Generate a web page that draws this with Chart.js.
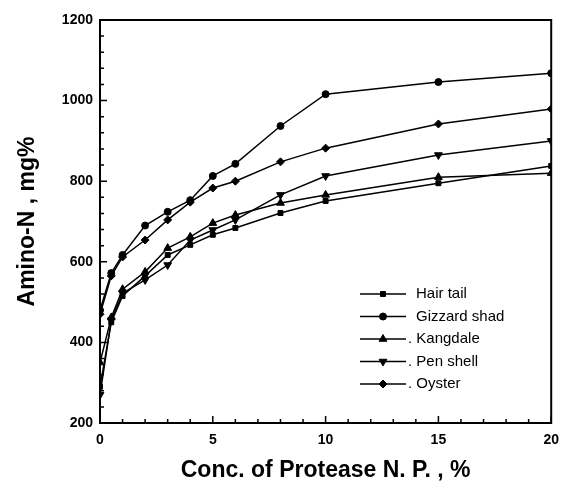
<!DOCTYPE html>
<html>
<head>
<meta charset="utf-8">
<script src="https://cdn.jsdelivr.net/npm/chart.js@4/dist/chart.umd.min.js"></script>
<style>
  html, body { margin: 0; padding: 0; background: #fff; }
  canvas { display: block; }
</style>
</head>
<body>
<canvas id="chart" width="568" height="490"></canvas>
<script>
// concentration of protease N.P. (%)
const conc = [0, 0.5, 1, 2, 3, 4, 5, 6, 8, 10, 15, 20];

// amino-N (mg%)
const hairTail    = [290, 450, 515, 565, 617, 642, 667, 684, 721, 751, 795, 838];
const gizzardShad = [480, 572, 617, 690, 724, 753, 813, 843, 937, 1016, 1046, 1068];
const kangdale    = [350, 462, 532, 575, 634, 662, 696, 716, 746, 766, 810, 820];
const penShell    = [270, 455, 522, 555, 592, 654, 679, 704, 766, 813, 865, 900];
const oyster      = [470, 565, 612, 654, 704, 748, 783, 800, 848, 882, 942, 979];

const legendLabels = ["Hair tail", "Gizzard shad", ". Kangdale", ". Pen shell", ". Oyster"];
const xTickLabels = [0, 5, 10, 15, 20];
const yTickLabels = [200, 400, 600, 800, 1000, 1200];

const font = "'Liberation Sans', Arial, sans-serif";

function series(label, values, style, radius, rotation) {
    return {
        label: label,
        data: conc.map((x, i) => ({ x: x, y: values[i] })),
        borderColor: "#000",
        backgroundColor: "#000",
        borderWidth: 1.5,
        pointStyle: style,
        pointRadius: radius,
        pointRotation: rotation || 0,
        pointBorderWidth: 1,
        tension: 0
    };
}

const datasets = [
    series(legendLabels[0], hairTail, "rect", 3.5),
    series(legendLabels[1], gizzardShad, "circle", 3.5),
    series(legendLabels[2], kangdale, "triangle", 4.5),
    series(legendLabels[3], penShell, "triangle", 4.5, 180),
    series(legendLabels[4], oyster, "rectRot", 4)
];

// frame, inward ticks and the legend box inside the plot
const framePlugin = {
    id: "frame",
    afterDraw(chart) {
        const ctx = chart.ctx;
        const a = chart.chartArea;
        const xs = chart.scales.x, ys = chart.scales.y;
        ctx.save();
        ctx.strokeStyle = "#000";
        ctx.lineWidth = 2;
        ctx.strokeRect(a.left, a.top, a.right - a.left, a.bottom - a.top);

        ctx.lineWidth = 1.5;
        ctx.beginPath();
        for (let v = 200; v <= 1200; v += 40) {
            const y = ys.getPixelForValue(v);
            const len = v % 200 === 0 ? 7 : 4;
            ctx.moveTo(a.left, y);
            ctx.lineTo(a.left + len, y);
        }
        for (let v = 0; v <= 20; v += 1) {
            const x = xs.getPixelForValue(v);
            const len = v % 5 === 0 ? 7 : 4;
            ctx.moveTo(x, a.bottom);
            ctx.lineTo(x, a.bottom - len);
        }
        ctx.stroke();

        // legend
        const lx = 360, lx2 = 406, tx = 416;
        let ly = 294;
        const draw = Chart.helpers && Chart.helpers.drawPoint;
        chart.data.datasets.forEach(ds => {
            ctx.strokeStyle = "#000";
            ctx.lineWidth = 1.5;
            ctx.beginPath();
            ctx.moveTo(lx, ly);
            ctx.lineTo(lx2, ly);
            ctx.stroke();
            if (draw) {
                ctx.fillStyle = "#000";
                ctx.lineWidth = 1;
                draw(ctx, {
                    pointStyle: ds.pointStyle,
                    radius: ds.pointRadius,
                    rotation: ds.pointRotation,
                    borderWidth: 1
                }, (lx + lx2) / 2, ly);
            }
            ctx.fillStyle = "#000";
            ctx.font = "15px " + font;
            ctx.textAlign = "left";
            ctx.textBaseline = "middle";
            ctx.fillText(ds.label, ds.label.startsWith(".") ? tx - 8 : tx, ly);
            ly += 22.5;
        });
        ctx.restore();
    }
};

new Chart(document.getElementById("chart"), {
    type: "line",
    data: { datasets: datasets },
    options: {
        responsive: false,
        animation: false,
        devicePixelRatio: 1,
        layout: { padding: { top: 20, right: 11, bottom: 0, left: 0 } },
        plugins: { legend: { display: false }, tooltip: { enabled: false } },
        scales: {
            x: {
                type: "linear",
                min: 0,
                max: 20,
                afterFit(scale) { scale.height = 67; },
                afterBuildTicks(scale) { scale.ticks = xTickLabels.map(v => ({ value: v })); },
                grid: { display: false, drawTicks: false },
                border: { display: false },
                ticks: {
                    padding: 9,
                    color: "#000",
                    callback: v => String(v),
                    font: { family: font, size: 14, weight: "bold" }
                },
                title: {
                    display: true,
                    text: "Conc. of Protease N. P. , %",
                    color: "#000",
                    padding: { top: 8, bottom: 6 },
                    font: { family: font, size: 23, weight: "bold" }
                }
            },
            y: {
                min: 200,
                max: 1200,
                afterFit(scale) { scale.width = 100; },
                afterBuildTicks(scale) { scale.ticks = yTickLabels.map(v => ({ value: v })); },
                grid: { display: false, drawTicks: false },
                border: { display: false },
                ticks: {
                    padding: 7,
                    color: "#000",
                    callback: v => String(v),
                    font: { family: font, size: 14, weight: "bold" }
                },
                title: {
                    display: true,
                    text: "Amino-N , mg%",
                    color: "#000",
                    padding: { top: 14, bottom: 12 },
                    font: { family: font, size: 23, weight: "bold" }
                }
            }
        }
    },
    plugins: [framePlugin]
});
</script>
</body>
</html>
